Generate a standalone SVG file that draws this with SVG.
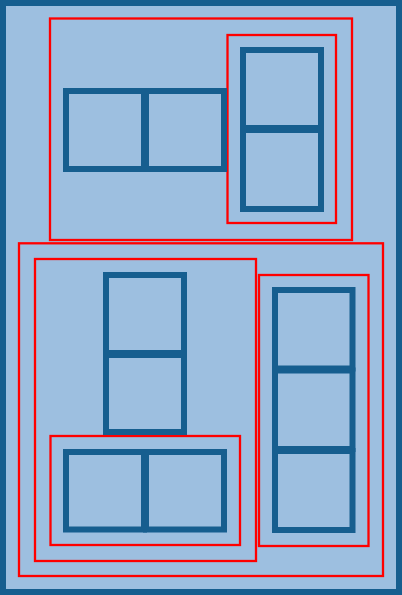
<svg xmlns="http://www.w3.org/2000/svg" width="402" height="595" viewBox="0 0 402 595">
<style>
.bg{fill:#9dbfe0;stroke:#165e8f;stroke-width:6}
.cell{fill:#9dbfe0;stroke:#165e8f;stroke-width:6}
.grp{fill:none;stroke:#ff0000;stroke-width:2.3}
</style>
<g id="frame"><rect class="bg" x="3" y="3" width="396" height="589"/></g>
<g id="group-top"><rect class="grp" x="50" y="18.5" width="302" height="221.5"/></g>
<g id="group-top-right"><rect class="grp" x="227.5" y="35" width="108.5" height="188"/></g>
<g id="group-bottom"><rect class="grp" x="19" y="243.3" width="364" height="332.7"/></g>
<g id="group-bottom-left"><rect class="grp" x="35" y="259" width="221" height="302"/></g>
<g id="group-bottom-right"><rect class="grp" x="259" y="275" width="109.5" height="271"/></g>
<g id="group-bottom-left-inner"><rect class="grp" x="50.5" y="436" width="189.5" height="109"/></g>
<g id="pair-top-left">
<rect class="cell" x="66" y="91" width="78" height="78"/>
<rect class="cell" x="146" y="91" width="78" height="78"/>
</g>
<g id="stack-top-right">
<rect class="cell" x="243" y="50" width="78" height="78"/>
<rect class="cell" x="243" y="130" width="78" height="79"/>
</g>
<g id="stack-middle-left">
<rect class="cell" x="106" y="275" width="78" height="78"/>
<rect class="cell" x="106" y="355" width="78" height="77"/>
</g>
<g id="pair-bottom-left">
<rect class="cell" x="66" y="452" width="78" height="77.5"/>
<rect class="cell" x="146" y="452" width="78" height="77.5"/>
</g>
<g id="stack-bottom-right">
<rect class="cell" x="275" y="290" width="77.5" height="78.5"/>
<rect class="cell" x="275" y="370.5" width="77.5" height="78.5"/>
<rect class="cell" x="275" y="451" width="77.5" height="79"/>
</g>
<g id="connectors"></g>
</svg>
